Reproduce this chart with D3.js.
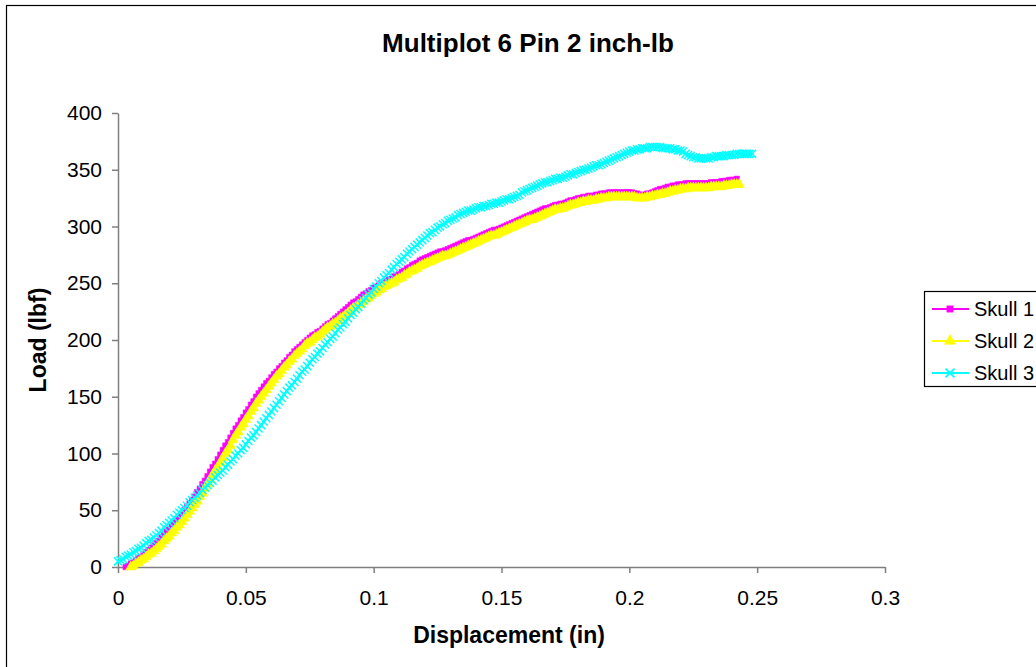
<!DOCTYPE html>
<html><head><meta charset="utf-8">
<script src="https://cdn.jsdelivr.net/npm/d3@7"></script>
<style>
html,body{margin:0;padding:0;background:#fff;}
svg{display:block;font-family:"Liberation Sans",Arial,sans-serif;}
</style></head>
<body>
<svg id="chart" width="1036" height="667"></svg>
<script>
// ---- data ----
const chartTitle = "Multiplot 6 Pin 2 inch-lb";
const xAxisTitle = "Displacement (in)";
const yAxisTitle = "Load (lbf)";
const xTickValues = [0, 0.05, 0.1, 0.15, 0.2, 0.25, 0.3];
const xTickLabels = ["0", "0.05", "0.1", "0.15", "0.2", "0.25", "0.3"];
const yTickValues = [0, 50, 100, 150, 200, 250, 300, 350, 400];
const yTickLabels = ["0", "50", "100", "150", "200", "250", "300", "350", "400"];
const seriesNames = ["Skull 1", "Skull 2", "Skull 3"];
const displacementStep = 0.001;           // sampling interval of the recordings (in)
const displacementStart = [0.003, 0.005, 0.000];

const skull1Load = [
  0,1,3,4,6,8,9,11,13,15,
  17,19,21,23,26,28,31,33,36,39,
  41,44,47,50,53,56,59,62,66,69,
  73,76,80,84,88,91,95,99,103,107,
  110,114,118,122,125,129,132,136,139,143,
  146,150,153,156,159,162,164,167,170,172,
  175,177,180,182,185,187,190,192,194,196,
  198,200,202,204,205,207,208,210,212,214,
  215,217,219,221,223,225,227,229,231,233,
  234,236,238,240,241,243,244,246,247,248,
  250,251,252,253,254,256,257,258,260,261,
  263,264,266,267,268,270,271,272,273,274,
  275,276,277,278,278,279,280,281,282,283,
  284,285,286,287,288,288,289,290,291,292,
  293,294,295,296,297,297,298,299,300,301,
  302,303,304,305,306,307,308,309,310,311,
  312,313,314,315,316,316,317,318,319,319,
  320,320,321,322,323,323,324,325,325,326,
  326,327,327,327,328,328,329,329,329,330,
  330,330,330,330,330,330,330,330,330,329,
  329,328,328,328,329,329,330,331,332,333,
  333,334,335,335,336,336,337,337,337,338,
  338,338,338,338,338,338,338,338,338,339,
  339,339,339,340,340,340,341,341,341,342
];
const skull2Load = [
  0,1,3,4,6,7,9,11,12,14,
  16,18,20,23,25,27,30,32,35,37,
  40,43,46,49,52,55,58,62,65,69,
  73,77,81,85,88,92,96,100,103,107,
  112,116,119,123,126,130,133,137,140,144,
  147,150,153,156,159,162,165,168,170,173,
  176,178,181,183,186,188,190,192,195,197,
  198,200,202,203,205,207,209,211,212,214,
  215,217,219,220,222,224,226,228,229,231,
  232,234,236,237,239,241,242,244,245,247,
  248,249,250,251,253,254,255,257,258,260,
  261,262,263,265,266,267,268,269,270,271,
  272,273,274,274,275,276,277,278,279,280,
  281,282,283,284,285,286,287,288,289,290,
  291,292,292,293,294,295,296,297,298,299,
  300,301,302,303,304,305,306,306,307,308,
  309,310,311,312,313,314,315,315,316,316,
  317,318,319,319,320,321,321,322,322,323,
  323,323,324,324,325,325,325,326,326,326,
  326,326,326,326,326,326,326,326,325,325,
  325,325,326,326,327,327,328,328,329,329,
  330,331,331,332,332,333,333,333,334,334,
  334,334,334,334,334,334,334,335,335,335,
  335,335,336,336,336,337,337,337,337
];
const skull3Load = [
  5,6,7,9,10,11,13,14,16,17,
  19,21,23,24,26,28,30,32,35,37,
  39,41,43,46,48,50,52,54,57,59,
  61,63,65,68,70,72,74,76,79,81,
  83,85,88,90,93,95,98,100,103,105,
  108,111,114,116,119,122,125,128,131,134,
  137,140,143,146,149,152,155,158,160,163,
  166,169,172,174,177,180,183,185,188,190,
  193,196,198,201,203,206,209,211,214,216,
  219,222,224,227,229,232,235,237,240,242,
  245,247,250,252,255,257,259,262,264,267,
  269,271,273,276,278,280,282,284,286,288,
  290,292,294,295,297,299,300,302,303,305,
  306,307,308,310,311,312,313,314,314,315,
  316,317,317,318,318,319,320,320,321,321,
  322,323,324,324,325,326,327,328,330,331,
  332,333,334,335,336,337,338,339,339,340,
  341,342,342,343,343,344,345,346,346,347,
  348,349,350,350,351,352,353,354,354,355,
  356,357,358,359,360,361,362,363,364,365,
  366,367,367,368,368,369,369,369,370,370,
  370,370,370,369,369,369,369,368,368,367,
  367,366,364,363,362,361,361,360,360,360,
  360,360,361,361,362,362,362,362,363,363,
  363,363,364,364,364,364,364,364,364
];
const seriesLoads = [skull1Load, skull2Load, skull3Load];

// ---- styles ----
const colors = ["#FF00FF", "#FFFF00", "#00FFFF"];
const symbols = [d3.symbolSquare, d3.symbolTriangle, d3.symbolTimes];
const symbolSizes = [30, 46, 44];

const svg = d3.select("#chart");
const W = 1036, H = 667;
const plot = {left: 118, right: 885, top: 113, bottom: 567};

// outer frame
svg.append("rect").attr("x", 6.5).attr("y", 5.5).attr("width", W + 10).attr("height", H + 10)
  .attr("fill", "#fff").attr("stroke", "#000").attr("stroke-width", 1.2);

const x = d3.scaleLinear().domain([0, 0.3]).range([plot.left, plot.right]);
const y = d3.scaleLinear().domain([0, 400]).range([plot.bottom, plot.top]);

// title
svg.append("text").attr("x", 528).attr("y", 52).attr("text-anchor", "middle")
  .attr("font-size", 26).attr("font-weight", "bold").text(chartTitle);

// axes
const axisColor = "#7f7f7f";
const xAxis = svg.append("g").attr("transform", `translate(0,${plot.bottom})`)
  .call(d3.axisBottom(x).tickValues(xTickValues).tickFormat((d, i) => xTickLabels[i])
    .tickSize(6).tickSizeOuter(0).tickPadding(17));
const yAxis = svg.append("g").attr("transform", `translate(${plot.left},0)`)
  .call(d3.axisLeft(y).tickValues(yTickValues).tickFormat((d, i) => yTickLabels[i])
    .tickSize(6).tickSizeOuter(0).tickPadding(10));
[xAxis, yAxis].forEach(g => {
  g.select(".domain").attr("stroke", axisColor).attr("stroke-width", 1.5);
  g.selectAll(".tick line").attr("stroke", axisColor).attr("stroke-width", 1.5);
  g.selectAll(".tick text").attr("fill", "#000").attr("font-size", 21)
    .attr("font-family", "'Liberation Sans',Arial,sans-serif");
});

// axis titles
svg.append("text").attr("x", 509).attr("y", 643).attr("text-anchor", "middle")
  .attr("font-size", 23).attr("font-weight", "bold").text(xAxisTitle);
svg.append("text").attr("transform", "translate(46,340) rotate(-90)").attr("text-anchor", "middle")
  .attr("font-size", 23).attr("font-weight", "bold").text(yAxisTitle);

// series
const plotG = svg.append("g");
seriesLoads.forEach((loads, s) => {
  const pts = loads.map((v, i) => [displacementStart[s] + i * displacementStep, v]);
  const g = plotG.append("g");
  g.append("path").datum(pts)
    .attr("d", d3.line().x(d => x(d[0])).y(d => y(d[1])))
    .attr("fill", "none").attr("stroke", colors[s]).attr("stroke-width", 2);
  const sym = d3.symbol().type(symbols[s]).size(symbolSizes[s]);
  g.selectAll("path.m").data(pts).enter().append("path").attr("class", "m")
    .attr("transform", d => `translate(${x(d[0])},${y(d[1])})`)
    .attr("d", sym())
    .attr("fill", s === 2 ? "none" : colors[s])
    .attr("stroke", colors[s]).attr("stroke-width", s === 2 ? 1.5 : 0.5);
});

// legend
const lg = svg.append("g");
lg.append("rect").attr("x", 924.5).attr("y", 291.5).attr("width", 130).attr("height", 95)
  .attr("fill", "#fff").attr("stroke", "#000").attr("stroke-width", 1.2);
const legendY = [309, 341, 373];
seriesNames.forEach((name, s) => {
  const ly = legendY[s];
  lg.append("line").attr("x1", 932).attr("x2", 969).attr("y1", ly).attr("y2", ly)
    .attr("stroke", colors[s]).attr("stroke-width", 2);
  lg.append("path").attr("transform", `translate(950,${ly})`)
    .attr("d", d3.symbol().type(symbols[s]).size(symbolSizes[s] + 10)())
    .attr("fill", s === 2 ? "none" : colors[s])
    .attr("stroke", colors[s]).attr("stroke-width", s === 2 ? 1.8 : 0.5);
  lg.append("text").attr("x", 974).attr("y", ly).attr("dy", "0.35em")
    .attr("font-size", 20).text(name);
});
</script>
</body></html>
